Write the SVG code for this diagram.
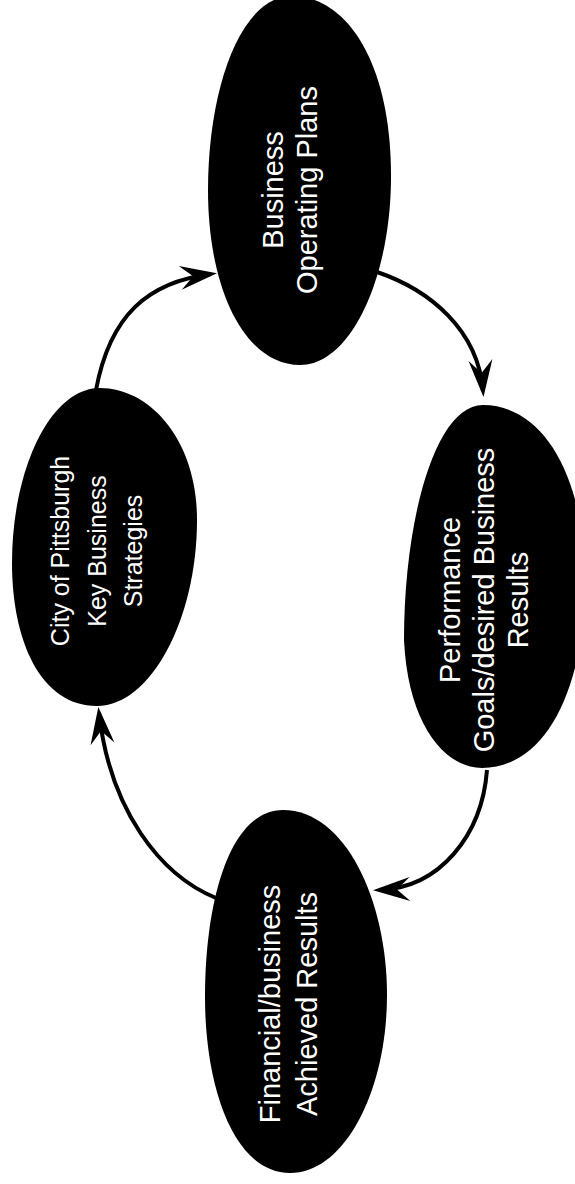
<svg xmlns="http://www.w3.org/2000/svg" width="575" height="1184" viewBox="0 0 575 1184">
<style>
.blob{fill:#000;stroke:none}
.lbl{font-family:"Liberation Sans",Arial,sans-serif;font-size:29px;fill:#fff;text-anchor:middle}
.sm{font-size:25px}
.conn{fill:none;stroke:#000;stroke-width:4}
</style>
<defs>
<marker id="ah" markerUnits="userSpaceOnUse" markerWidth="50" markerHeight="40" refX="0" refY="0" orient="auto" overflow="visible">
<path d="M6,0 L-31,-12 L-18,0 L-31,12 Z" fill="#000"/>
</marker>
</defs>
<rect width="575" height="1184" fill="#fff"/>
<g id="connectors">
<path class="conn" d="M96 390 C110 315 148 282 211 274" marker-end="url(#ah)"/>
<path class="conn" d="M377 272 C430 290 478 330 483 391" marker-end="url(#ah)"/>
<path class="conn" d="M487 770 C482 835 440 888 379 890" marker-end="url(#ah)"/>
<path class="conn" d="M216 898 C160 875 110 810 99 713" marker-end="url(#ah)"/>
</g>
<g id="node-business-operating-plans">
<path class="blob" d="M292 -4 C345 -4 392 60 391 180 C390 280 350 365 300 365 C245 365 208 290 208 190 C208 90 240 -4 292 -4 Z"/>
<text class="lbl" transform="translate(0,190) rotate(-90)"><tspan x="0" y="283">Business</tspan><tspan x="0" y="317">Operating Plans</tspan></text>
</g>
<g id="node-city-strategies">
<path class="blob" d="M100 388 C150 388 197 440 197 520 C197 620 150 706 97 706 C40 706 12 640 12 563 C12 470 50 388 100 388 Z"/>
<text class="lbl sm" transform="translate(0,551) rotate(-90)"><tspan x="0" y="69">City of Pittsburgh</tspan><tspan x="0" y="106">Key Business</tspan><tspan x="0" y="142">Strategies</tspan></text>
</g>
<g id="node-performance-goals">
<path class="blob" d="M483 405 C545 405 585 480 585 580 C585 690 545 768 482 768 C445 768 408 725 404 640 C404 520 435 405 483 405 Z"/>
<text class="lbl" transform="translate(0,600) rotate(-90)"><tspan x="0" y="460">Performance</tspan><tspan x="0" y="494">Goals/desired Business</tspan><tspan x="0" y="528">Results</tspan></text>
</g>
<g id="node-financial-results">
<path class="blob" d="M283 810 C345 810 387 900 387 995 C387 1090 345 1173 290 1173 C235 1173 205 1090 205 997 C205 900 230 810 283 810 Z"/>
<text class="lbl" transform="translate(0,1004) rotate(-90)"><tspan x="0" y="280">Financial/business</tspan><tspan x="0" y="317">Achieved Results</tspan></text>
</g>
</svg>
